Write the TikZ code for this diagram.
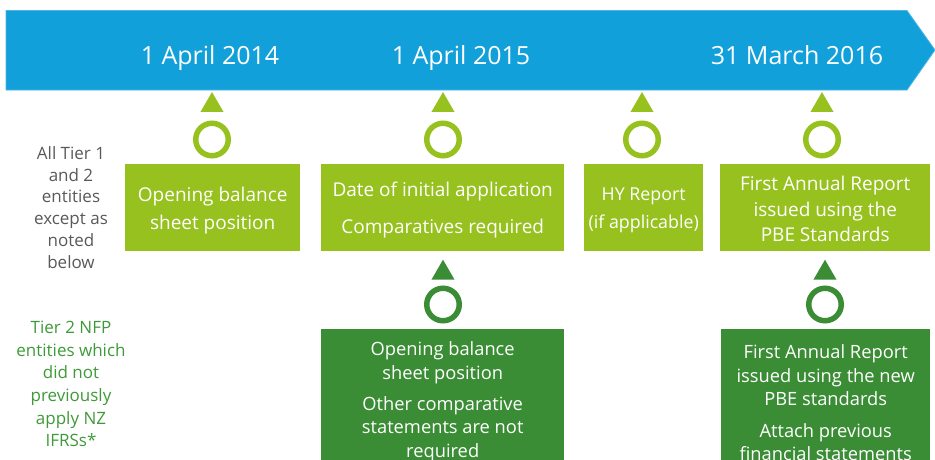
\documentclass[tikz,border=0pt]{standalone}
\usepackage{fontspec}
\setmainfont{Open Sans}
\usetikzlibrary{shapes.geometric}
\definecolor{tlblue}{HTML}{12A0DB}
\definecolor{tledge}{HTML}{4DB6E6}
\definecolor{lgreen}{HTML}{97C11F}
\definecolor{dgreen}{HTML}{3A8C35}
\definecolor{graytxt}{HTML}{58595B}
\definecolor{greentxt}{HTML}{3E9A38}
\tikzset{
  datetxt/.style={text=white, inner sep=0, anchor=base, font=\fontsize{25}{30}\selectfont},
  lbox/.style={fill=lgreen, inner sep=0, anchor=north west},
  dbox/.style={fill=dgreen, inner sep=0, anchor=north west},
  ltxt/.style={text=white, align=center, inner sep=0, font=\fontsize{19}{28}\selectfont},
  dtxt/.style={text=white, align=center, inner sep=0, font=\fontsize{18.3}{23.5}\selectfont},
  ltri/.style={regular polygon, regular polygon sides=3, fill=lgreen, inner sep=0, minimum size=26.6},
  dtri/.style={regular polygon, regular polygon sides=3, fill=dgreen, inner sep=0, minimum size=26.6},
  lring/.style={circle, draw=lgreen, line width=5.5, inner sep=0, minimum size=32.5},
  dring/.style={circle, draw=dgreen, line width=5.5, inner sep=0, minimum size=32.5},
  sidetxt/.style={align=center, inner sep=0, font=\fontsize{17}{21.8}\selectfont},
}
\begin{document}
\begin{tikzpicture}[x=1pt,y=-1pt]
\useasboundingbox (0,0) rectangle (935,459);
\clip (0,0) rectangle (935,459);
% timeline arrow
\fill[tlblue] (6,10.5) -- (907,10.5) -- (935,50) -- (907,90) -- (6,90) -- cycle;
\draw[tledge, line width=0.8] (6,90) -- (6,10.5) -- (907,10.5) -- (935,50) -- (907,90) -- (6,90);
\node[datetxt] (d1) at (210,64.5) {1 April 2014};
\node[datetxt] (d2) at (461,64.5) {1 April 2015};
\node[datetxt] (d3) at (797,64.5) {31 March 2016};
% upper markers
\node[ltri] (t1) at (212,105.3) {};
\node[ltri] (t2) at (443,105.3) {};
\node[ltri] (t3) at (642,105.3) {};
\node[ltri] (t4) at (822,105.3) {};
\node[lring] (c1) at (212,139.5) {};
\node[lring] (c2) at (443,139.5) {};
\node[lring] (c3) at (642,139.5) {};
\node[lring] (c4) at (822,139.5) {};
% upper boxes
\node[lbox, minimum width=175, minimum height=87] (b1) at (125,164) {};
\node[lbox, minimum width=243, minimum height=87] (b2) at (321,164) {};
\node[lbox, minimum width=119, minimum height=87] (b3) at (584,164) {};
\node[lbox, minimum width=210, minimum height=87] (b4) at (720,164) {};
\node[ltxt] (b1t) at ([yshift=-2.5pt]b1.center) {Opening balance\\sheet position};
\node[ltxt] (b2t) at ([yshift=-2.5pt]b2.center) {Date of initial application\\[9pt]Comparatives required};
\node[ltxt, font=\fontsize{17.8}{28}\selectfont] (b3t) at ([yshift=-2.5pt]b3.center) {HY Report\\(if applicable)};
\node[ltxt, font=\fontsize{19}{25.5}\selectfont] (b4t) at ([yshift=-1.5pt]b4.center) {First Annual Report\\issued using the\\PBE Standards};
% lower markers
\node[dtri] (t5) at (443,273) {};
\node[dtri] (t6) at (825,273) {};
\node[dring] (c5) at (443,304.5) {};
\node[dring] (c6) at (825,304.5) {};
% lower boxes
\node[dbox, minimum width=243, minimum height=140] (b5) at (321,329) {};
\node[dbox, minimum width=209, minimum height=140] (b6) at (721,329) {};
\node[dtxt] (b5t) at ([yshift=-2.5pt]b5.center) {Opening balance\\sheet position\\[7.5pt]Other comparative\\statements are not\\required};
\node[dtxt] (b6t) at ([yshift=-3.5pt]b6.center) {First Annual Report\\issued using the new\\PBE standards\\[8pt]Attach previous\\financial statements};
% side labels
\node[sidetxt, text=graytxt] (s1) at (71,207.5) {All Tier 1\\and 2\\entities\\except as\\noted\\below};
\node[sidetxt, text=greentxt, font=\fontsize{17}{22.6}\selectfont] (s2) at (71,384) {Tier 2 NFP\\entities which\\did not\\previously\\apply NZ\\IFRSs*};
\end{tikzpicture}
\end{document}
